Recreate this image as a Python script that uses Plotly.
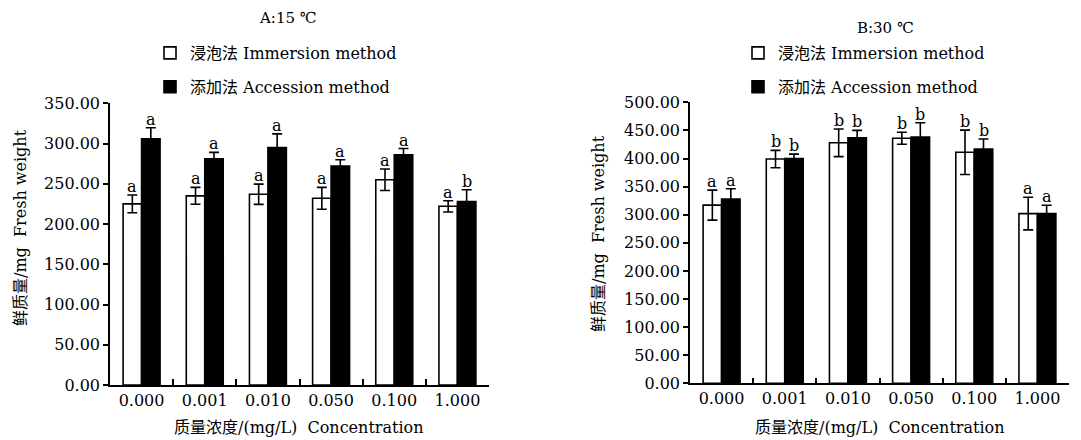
import plotly.graph_objects as go

cats = ["0.000", "0.001", "0.010", "0.050", "0.100", "1.000"]

A_imm = [225, 235, 237, 232, 255, 222]
A_imm_err = [11, 10.5, 12.6, 13.6, 13.4, 7]
A_acc = [306, 281, 295, 272, 286, 228]
A_acc_err = [13.6, 8, 17, 7.8, 7.8, 14.5]
A_imm_letters = ["a", "a", "a", "a", "a", "a"]
A_acc_letters = ["a", "a", "a", "a", "a", "b"]

B_imm = [317, 399, 428, 436, 411, 302]
B_imm_err = [26.7, 15.4, 24.6, 10.7, 39.5, 29]
B_acc = [328, 400, 437, 438, 417, 302]
B_acc_err = [18.3, 7.7, 13, 25.5, 17.8, 14.8]
B_imm_letters = ["a", "b", "b", "b", "b", "a"]
B_acc_letters = ["a", "b", "b", "b", "b", "a"]

name_imm = "浸泡法 Immersion method"
name_acc = "添加法 Accession method"
title_A = "A:15 ℃"
title_B = "B:30 ℃"
ytitle = "鲜质量/mg  Fresh weight"
xtitle = "质量浓度/(mg/L)  Concentration"

FONT = "'DejaVu Serif', 'Noto Sans CJK SC', serif"
# page body has an 8px margin: lay the figure out in window pixels, shifted by it
OFF = 8
W, H = 1081 - OFF, 440 - OFF

def fx(px):
    return (px - OFF) / W

def fy(py):
    return 1 - (py - OFF) / H

fig = go.Figure()

def add_pair(imm, imm_err, acc, acc_err, xa, ya, leg, grp):
    fig.add_trace(go.Bar(
        x=cats, y=imm, name=name_imm, xaxis=xa, yaxis=ya, legend=leg,
        legendgroup=grp + "i",
        marker=dict(color="white", line=dict(color="black", width=1.6)),
        error_y=dict(type="data", array=imm_err, color="black", thickness=1.6, width=5),
    ))
    fig.add_trace(go.Bar(
        x=cats, y=acc, name=name_acc, xaxis=xa, yaxis=ya, legend=leg,
        legendgroup=grp + "a",
        marker=dict(color="black", line=dict(color="black", width=1.6)),
        error_y=dict(type="data", array=acc_err, color="black", thickness=1.6, width=5),
    ))

add_pair(A_imm, A_imm_err, A_acc, A_acc_err, "x", "y", "legend", "A")
add_pair(B_imm, B_imm_err, B_acc, B_acc_err, "x2", "y2", "legend2", "B")

annotations = []
def add_letters(vals, errs, letters, xref, yref, shift):
    for i, (v, e, t) in enumerate(zip(vals, errs, letters)):
        annotations.append(dict(
            x=i, y=v + e, xref=xref, yref=yref, text=t, showarrow=False,
            xanchor="center", yanchor="bottom", xshift=shift, yshift=-3,
            font=dict(family=FONT, size=16, color="black"),
        ))

bw = 9.25
add_letters(A_imm, A_imm_err, A_imm_letters, "x", "y", -bw)
add_letters(A_acc, A_acc_err, A_acc_letters, "x", "y", bw)
add_letters(B_imm, B_imm_err, B_imm_letters, "x2", "y2", -bw)
add_letters(B_acc, B_acc_err, B_acc_letters, "x2", "y2", bw)

def px_ann(text, xpx, ypx, size=16, angle=0):
    annotations.append(dict(
        x=fx(xpx), y=fy(ypx), xref="paper", yref="paper", text=text,
        showarrow=False, xanchor="center", yanchor="middle", textangle=angle,
        borderpad=0, font=dict(family=FONT, size=size, color="black"),
    ))

px_ann(title_A, 288, 18, size=15)
px_ann(title_B, 886, 28, size=15)
px_ann(ytitle, 20, 228, angle=-90)
px_ann(ytitle, 598, 234, angle=-90)
px_ann(xtitle, 299, 427)
px_ann(xtitle, 880, 427)

xcommon = dict(type="category", tickson="boundaries", ticks="inside", ticklen=6,
               tickwidth=1.5, tickcolor="black", showline=True, linecolor="black",
               linewidth=1.6, showgrid=False, zeroline=False, automargin=False,
               tickfont=dict(family=FONT, size=16, color="black"))
ycommon = dict(ticks="outside", ticklen=5, tickwidth=1.5, tickcolor="black",
               showline=True, linecolor="black", linewidth=1.6, showgrid=False,
               zeroline=False, tickformat=".2f", dtick=50, automargin=False,
               tickfont=dict(family=FONT, size=16, color="black"))

legcommon = dict(xanchor="left", yanchor="top", bgcolor="rgba(0,0,0,0)",
                 font=dict(family=FONT, size=16, color="black"),
                 traceorder="grouped", tracegroupgap=10, itemwidth=30)

fig.update_layout(
    width=W, height=H,
    margin=dict(l=0, r=0, t=0, b=0, pad=0, autoexpand=False),
    paper_bgcolor="white", plot_bgcolor="white",
    barmode="group", bargap=0.415, bargroupgap=0,
    xaxis=dict(domain=[fx(110), fx(489)], anchor="y", **xcommon),
    yaxis=dict(domain=[fy(385), fy(103.3)], anchor="x", range=[0, 350], **ycommon),
    xaxis2=dict(domain=[fx(690), fx(1069)], anchor="y2", **xcommon),
    yaxis2=dict(domain=[fy(383.3), fy(102.3)], anchor="x2", range=[0, 500], **ycommon),
    legend=dict(x=fx(150), y=fy(36), **legcommon),
    legend2=dict(x=fx(738), y=fy(36), **legcommon),
    annotations=annotations,
    showlegend=True,
)

fig.write_html("out.html")
